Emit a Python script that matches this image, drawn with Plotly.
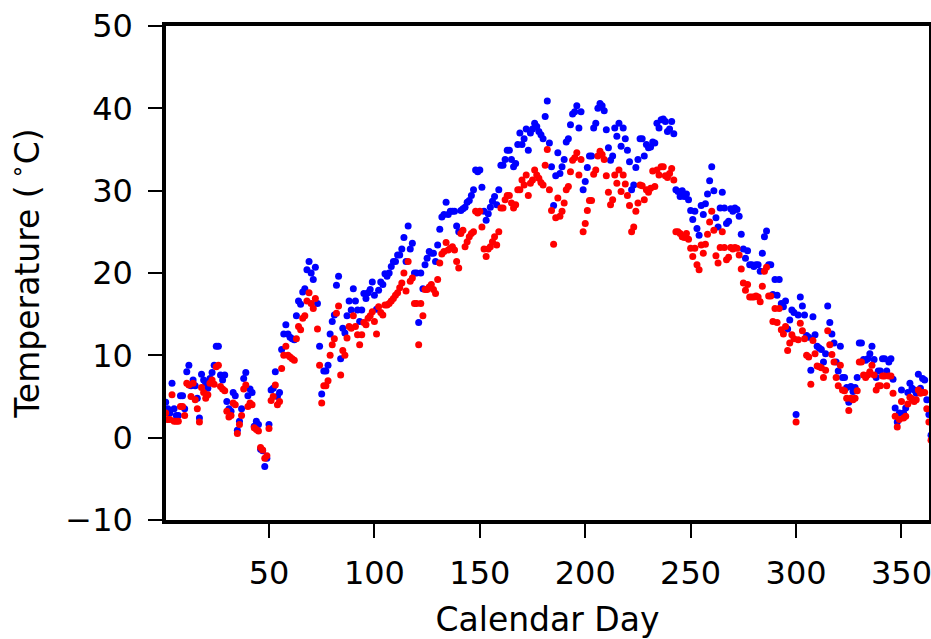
import plotly.graph_objects as go

days = list(range(1, 366))

high = [
    4.3, 3.5, 3.0, 6.6, 3.5, 2.7, 2.7, 5.1, 5.1, 3.5,
    8.0, 8.8, 6.3, 7.0, 6.3, 4.8, 2.4, 7.7, 7.0, 6.6,
    6.0, 7.2, 7.9, 8.8, 11.1, 11.1, 7.6, 7.0, 7.6, 4.4,
    3.5, 3.2, 5.5, 5.1, 0.9, 2.0, 3.5, 7.2, 7.9, 5.1,
    5.9, 5.5, 1.4, 2.0, 1.6, -1.4, -1.6, -3.5, -2.5, 1.6,
    5.8, 6.0, 8.0, 5.0, 5.5, 10.7, 12.6, 13.7, 12.6, 12.2,
    12.0, 11.9, 14.8, 16.6, 16.2, 17.7, 18.1, 20.4, 21.4, 20.0,
    19.2, 20.7, 16.3, 11.1, 5.3, 8.1, 8.1, 8.8, 12.6, 14.1,
    14.9, 18.5, 19.6, 9.6, 13.3, 12.7, 14.8, 16.6, 15.5, 18.1,
    16.6, 15.5, 14.1, 15.5, 17.5, 16.9, 17.6, 18.0, 18.9, 17.3,
    15.6, 17.9, 18.9, 18.6, 19.9, 19.6, 20.0, 20.8, 21.4, 21.4,
    22.2, 22.2, 22.9, 24.3, 21.4, 25.7, 22.9, 23.6, 20.0, 20.0,
    14.0, 20.0, 18.1, 21.0, 21.8, 22.6, 22.4, 22.4, 21.4, 23.4,
    25.3, 26.8, 27.1, 28.6, 27.1, 27.5, 27.5, 27.5, 25.7, 25.0,
    27.6, 27.8, 28.0, 28.6, 28.8, 29.4, 30.1, 32.5, 32.3, 32.5,
    30.4, 27.5, 26.4, 27.2, 28.0, 28.7, 29.3, 28.3, 30.1, 33.1,
    33.1, 33.8, 34.9, 34.9, 33.8, 32.9, 33.3, 35.6, 37.0, 35.6,
    36.3, 37.5, 34.9, 37.0, 37.5, 38.2, 37.8, 37.2, 36.8, 36.3,
    39.0, 40.9, 35.8, 32.9, 28.2, 31.8, 34.6, 32.1, 32.9, 33.8,
    35.9, 36.3, 38.0, 39.3, 39.6, 40.3, 37.6, 39.6, 30.1, 31.1,
    32.8, 34.2, 34.2, 37.6, 38.2, 40.0, 40.6, 40.3, 39.7, 37.4,
    35.2, 33.7, 34.2, 37.6, 36.6, 38.2, 35.4, 37.6, 36.3, 34.9,
    33.5, 30.1, 30.7, 32.8, 33.8, 36.3, 36.3, 34.2, 35.6, 35.2,
    35.3, 35.9, 35.8, 38.2, 37.6, 38.6, 38.7, 38.4, 37.2, 37.5,
    38.4, 36.9, 30.1, 29.9, 29.3, 30.0, 29.3, 29.6, 28.9, 27.6,
    26.5, 27.5, 25.4, 24.6, 28.2, 27.1, 28.4, 29.6, 31.2, 32.9,
    30.0, 26.7, 25.6, 27.9, 29.8, 27.9, 26.0, 26.3, 27.8, 27.5,
    27.9, 27.7, 26.9, 24.7, 22.9, 21.8, 22.7, 21.0, 21.0, 20.8,
    21.0, 21.0, 20.2, 22.4, 24.4, 25.1, 21.0, 21.0, 17.4, 19.2,
    17.3, 19.2, 16.3, 15.9, 16.6, 13.2, 14.3, 15.5, 15.2, 2.8,
    14.9, 17.1, 16.0, 14.9, 12.4, 12.2, 8.2, 14.7, 12.5, 11.1,
    10.9, 10.7, 9.2, 10.2, 16.0, 14.0, 12.6, 11.5, 9.2, 8.1,
    11.1, 7.3, 7.3, 6.1, 4.3, 6.2, 5.6, 6.1, 7.3, 11.5,
    11.5, 9.5, 9.4, 9.6, 10.2, 11.1, 9.5, 7.3, 8.1, 8.1,
    9.6, 9.6, 8.1, 9.2, 9.6, 7.1, 3.6, 1.9, 3.0, 5.8,
    3.0, 3.6, 5.5, 6.6, 6.0, 5.8, 5.4, 7.7, 6.0, 7.2,
    7.0, 4.6, 2.8, 0.3, 3.5,
]

low = [
    3.0, 2.2, 2.2, 5.2, 2.0, 2.0, 2.0, 3.8, 3.8, 2.7,
    6.6, 6.4, 5.0, 6.6, 4.6, 3.5, 1.9, 6.1, 5.5, 4.8,
    5.2, 6.6, 7.0, 6.5, 8.6, 8.8, 6.2, 5.9, 5.7, 3.2,
    2.5, 2.7, 4.2, 4.0, 0.5, 1.6, 2.7, 5.9, 6.4, 3.8,
    4.2, 4.0, 1.2, 1.0, 0.8, -1.2, -1.5, -2.5, -2.2, 1.1,
    4.5, 5.0, 6.4, 4.0, 4.4, 8.4, 10.0, 11.1, 10.0, 9.8,
    9.6, 9.4, 12.0, 13.5, 13.1, 14.5, 14.8, 16.6, 17.6, 16.3,
    15.7, 16.9, 13.2, 8.8, 4.2, 6.3, 6.3, 6.9, 10.0, 11.3,
    12.0, 15.1, 16.0, 7.6, 10.6, 10.0, 12.1, 13.5, 13.3, 14.8,
    13.5, 12.5, 11.3, 12.5, 14.0, 13.7, 14.5, 14.8, 15.3, 14.1,
    12.6, 15.9, 15.2, 14.9, 16.1, 16.1, 16.3, 16.6, 16.9, 17.3,
    17.6, 18.2, 18.8, 20.0, 17.8, 21.4, 19.0, 19.4, 16.3, 16.3,
    11.3, 16.3, 14.8, 18.0, 18.0, 18.3, 18.6, 18.0, 17.5, 19.2,
    21.2, 22.3, 22.6, 23.7, 22.8, 23.0, 23.2, 22.8, 21.4, 20.6,
    24.8, 25.2, 23.2, 23.8, 24.4, 24.8, 25.0, 27.5, 27.3, 27.5,
    25.6, 22.9, 22.0, 22.9, 23.2, 23.8, 24.4, 23.4, 25.0, 27.9,
    27.9, 28.9, 29.4, 29.4, 28.5, 27.9, 28.3, 30.1, 30.1, 31.3,
    30.7, 31.9, 29.4, 30.9, 31.3, 32.5, 31.9, 31.5, 31.0, 30.7,
    33.1, 35.0, 30.1, 27.6, 23.5, 26.7, 29.1, 26.9, 27.5, 28.5,
    30.1, 30.5, 32.3, 33.7, 34.0, 34.6, 31.9, 33.8, 25.0, 26.0,
    27.6, 28.8, 28.8, 32.0, 32.5, 34.2, 34.8, 34.4, 33.8, 31.8,
    29.8, 28.3, 28.9, 31.9, 30.9, 32.5, 29.9, 31.9, 30.8, 29.4,
    28.2, 25.0, 25.6, 27.5, 28.5, 30.7, 30.6, 28.9, 30.1, 29.8,
    30.3, 32.4, 30.5, 32.5, 31.9, 32.9, 32.9, 31.8, 31.6, 32.1,
    32.7, 31.3, 25.0, 25.0, 24.8, 24.4, 24.3, 24.8, 24.1, 23.0,
    22.0, 23.0, 21.0, 20.4, 23.4, 22.4, 23.5, 24.7, 26.2, 27.5,
    25.2, 22.1, 21.2, 23.1, 25.0, 23.1, 21.6, 21.9, 23.1, 22.9,
    23.1, 23.0, 22.2, 20.5, 18.8, 17.9, 18.6, 17.1, 17.1, 17.1,
    17.2, 17.1, 16.5, 18.4, 20.2, 20.7, 17.2, 17.2, 14.1, 15.7,
    14.0, 15.7, 13.1, 12.6, 13.5, 10.6, 11.5, 12.5, 12.0, 1.9,
    11.9, 13.9, 13.0, 12.0, 10.0, 9.8, 6.5, 11.8, 10.2, 8.7,
    8.6, 8.5, 7.3, 8.2, 13.0, 11.3, 10.1, 9.2, 7.3, 6.3,
    8.8, 5.8, 5.7, 4.8, 3.3, 4.8, 4.6, 4.8, 5.7, 9.2,
    9.2, 7.6, 7.3, 7.6, 8.0, 8.8, 7.6, 5.8, 6.3, 6.3,
    7.5, 7.5, 6.3, 7.5, 7.5, 5.4, 2.6, 1.3, 2.2, 4.4,
    2.4, 2.6, 4.1, 4.9, 4.7, 4.4, 4.6, 5.8, 5.4, 5.5,
    5.5, 3.5, 1.9, -0.3, 2.5,
]

x_ticks = [50, 100, 150, 200, 250, 300, 350]
y_ticks = [-10, 0, 10, 20, 30, 40, 50]

FONT = "DejaVu Sans"

fig = go.Figure()
fig.add_trace(go.Scatter(x=days, y=high, mode="markers",
                         marker=dict(color="#0000ff", size=7, line=dict(width=0)),
                         showlegend=False, hoverinfo="skip"))
fig.add_trace(go.Scatter(x=days, y=low, mode="markers",
                         marker=dict(color="#ff0000", size=7, line=dict(width=0)),
                         showlegend=False, hoverinfo="skip"))

axis_common = dict(
    showline=True, linewidth=3.5, linecolor="black", mirror=True,
    ticks="outside", ticklen=14, tickwidth=2, tickcolor="black",
    showgrid=False, zeroline=False, automargin=False,
    ticklabeloverflow="allow",
    tickfont=dict(family=FONT, size=32, color="black"),
)

fig.update_layout(
    width=931, height=639,
    margin=dict(l=166, r=2, t=26, b=119),
    paper_bgcolor="white", plot_bgcolor="white",
    font=dict(family=FONT, color="black"),
    xaxis=dict(range=[1.15, 363.05], tickvals=x_ticks, ticklabelstandoff=8,
               title=dict(text="Calendar Day", font=dict(family=FONT, size=33), standoff=20),
               **axis_common),
    yaxis=dict(range=[-10, 50], tickvals=y_ticks, ticklabelstandoff=9,
               title=dict(text="Temperature (\u2009<sup>\u2218</sup>C)", font=dict(family=FONT, size=33), standoff=17),
               **axis_common),
)

fig.write_html("out.html", config={"displayModeBar": False},
               post_script="document.body.style.margin='0';document.body.style.overflow='hidden';")
